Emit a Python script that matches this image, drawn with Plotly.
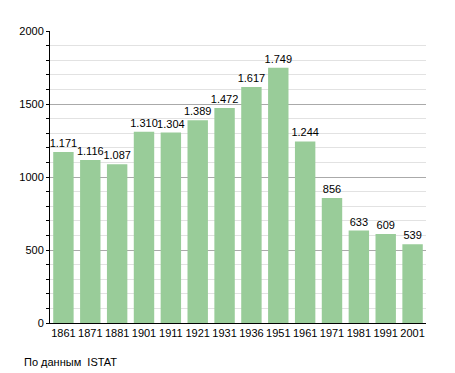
import plotly.graph_objects as go

years = ["1861", "1871", "1881", "1901", "1911", "1921", "1931", "1936", "1951", "1961", "1971", "1981", "1991", "2001"]
population = [1171, 1116, 1087, 1310, 1304, 1389, 1472, 1617, 1749, 1244, 856, 633, 609, 539]
labels = [f"{v:,}".replace(",", ".") for v in population]

fig = go.Figure(go.Bar(
    x=years, y=population, text=labels, textposition="outside",
    marker=dict(color="#99cc99", line=dict(width=0)),
    textfont=dict(size=11, color="#000"),
    cliponaxis=False,
))
fig.update_layout(
    width=447, height=365,
    margin=dict(l=42, r=29, t=23, b=50),
    plot_bgcolor="white", paper_bgcolor="white",
    font=dict(family="Liberation Sans, Arial, sans-serif", size=11, color="#000"),
    bargap=0.24,
    showlegend=False,
    uniformtext=dict(minsize=11, mode="show"),
    xaxis=dict(type="category", showline=True, linecolor="#000", linewidth=1,
               ticks="", tickfont=dict(size=11)),
    yaxis=dict(range=[0, 2000], tickvals=[0, 500, 1000, 1500, 2000], showline=True,
               linecolor="#000", linewidth=1, gridcolor="#aaaaaa", gridwidth=1,
               ticks="outside", ticklen=3, tickcolor="#000", zeroline=False,
               minor=dict(dtick=100, showgrid=True, gridcolor="#e2e2e2", ticks="outside",
                          ticklen=3, tickcolor="#000")),
    annotations=[dict(text="По данным  ISTAT", xref="paper", yref="paper",
                      x=-0.0745, y=-0.134, xanchor="left", yanchor="middle",
                      showarrow=False, font=dict(size=11))],
)
fig.write_html("out.html")
